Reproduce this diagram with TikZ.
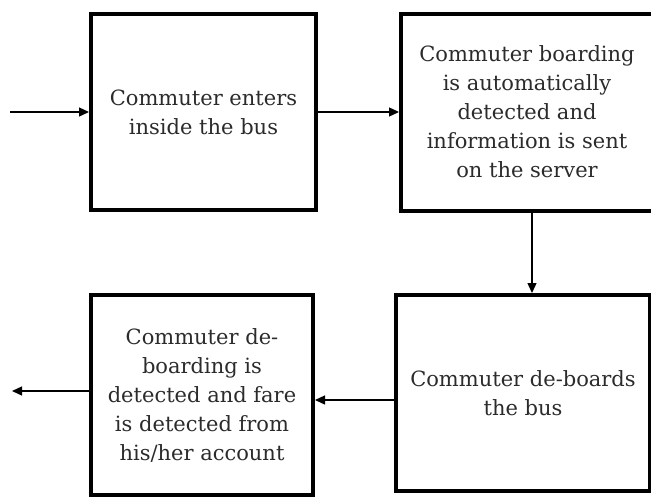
\documentclass[tikz,border=0pt]{standalone}
\usepackage{fontspec}
\setmainfont{DejaVu Serif}
\usepackage{xcolor}
\usetikzlibrary{positioning,arrows.meta,calc}

\definecolor{txtgray}{HTML}{2B2B2B}

\begin{document}
\begin{tikzpicture}[x=1pt, y=-1pt,
    stagebox/.style={draw, rectangle, line width=4pt, align=center, text=txtgray,
        font=\fontsize{21}{29}\selectfont, inner sep=0pt},
    flow/.style={line width=1.3pt, -{Triangle[length=10pt,width=9pt]}}]
    \useasboundingbox (0,0) rectangle (651,496);

    % Define the stages
    \node[stagebox, minimum width=225pt, minimum height=196pt] (enter) at (203.5,112) {Commuter enters\\inside the bus};
    \node[stagebox, minimum width=252pt, minimum height=197pt] (board) at (527,112) {Commuter boarding\\is automatically\\detected and\\information is sent\\on the server};
    \node[stagebox, minimum width=254pt, minimum height=196pt] (deboard) at (523,393) {Commuter de-boards\\the bus};
    \node[stagebox, minimum width=222pt, minimum height=200pt] (fare) at (202,395) {Commuter de-\\boarding is\\detected and fare\\is detected from\\his/her account};

    % Free ends
    \coordinate (start) at (10,112);
    \coordinate (finish) at (12,391);

    % Connectors
    \draw[flow] (start) -- (enter.west);
    \draw[flow] (enter.east) -- (board.west);
    \draw[flow] ([xshift=5pt]board.south) -- ([xshift=5pt]board.south |- deboard.north);
    \draw[flow] ([yshift=-7pt]deboard.west) -- ([yshift=-7pt]deboard.west -| fare.east);
    \draw[flow] ([yshift=4pt]fare.west) -- (finish);
\end{tikzpicture}
\end{document}
